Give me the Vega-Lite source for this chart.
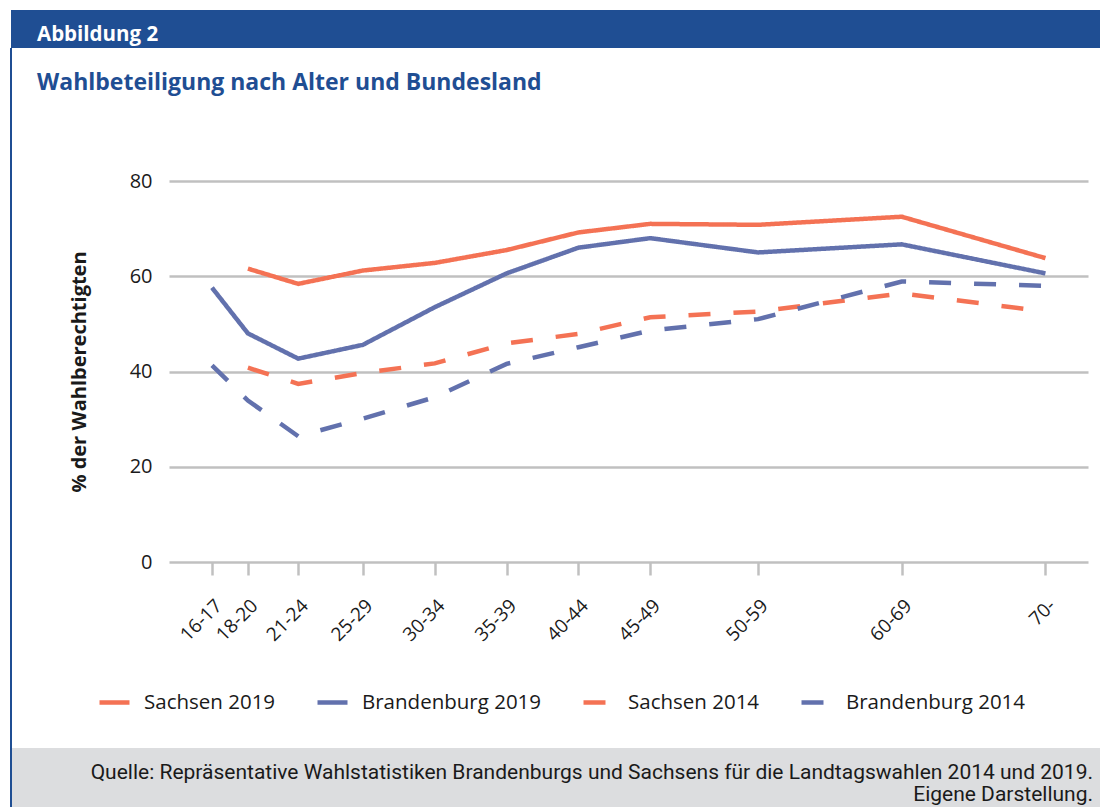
{
  "$schema": "https://vega.github.io/schema/vega-lite/v6.json",
  "padding": {"left": 10, "top": 10, "right": 0, "bottom": 0},
  "background": "white",
  "spacing": 0,
  "bounds": "flush",
  "config": {
    "view": {"stroke": null},
    "font": "Open Sans",
    "concat": {"spacing": 0}
  },
  "datasets": {
    "wahl": [
      {"Reihe": "Sachsen 2019", "Alter": "18-20", "Mitte": 19, "Wert": 61.6},
      {"Reihe": "Sachsen 2019", "Alter": "21-24", "Mitte": 22.5, "Wert": 58.4},
      {"Reihe": "Sachsen 2019", "Alter": "25-29", "Mitte": 27, "Wert": 61.2},
      {"Reihe": "Sachsen 2019", "Alter": "30-34", "Mitte": 32, "Wert": 62.8},
      {"Reihe": "Sachsen 2019", "Alter": "35-39", "Mitte": 37, "Wert": 65.5},
      {"Reihe": "Sachsen 2019", "Alter": "40-44", "Mitte": 42, "Wert": 69.2},
      {"Reihe": "Sachsen 2019", "Alter": "45-49", "Mitte": 47, "Wert": 71.0},
      {"Reihe": "Sachsen 2019", "Alter": "50-59", "Mitte": 54.5, "Wert": 70.8},
      {"Reihe": "Sachsen 2019", "Alter": "60-69", "Mitte": 64.5, "Wert": 72.5},
      {"Reihe": "Sachsen 2019", "Alter": "70-", "Mitte": 74.5, "Wert": 63.8},
      {"Reihe": "Brandenburg 2019", "Alter": "16-17", "Mitte": 16.5, "Wert": 57.6},
      {"Reihe": "Brandenburg 2019", "Alter": "18-20", "Mitte": 19, "Wert": 48.0},
      {"Reihe": "Brandenburg 2019", "Alter": "21-24", "Mitte": 22.5, "Wert": 42.7},
      {"Reihe": "Brandenburg 2019", "Alter": "25-29", "Mitte": 27, "Wert": 45.6},
      {"Reihe": "Brandenburg 2019", "Alter": "30-34", "Mitte": 32, "Wert": 53.5},
      {"Reihe": "Brandenburg 2019", "Alter": "35-39", "Mitte": 37, "Wert": 60.6},
      {"Reihe": "Brandenburg 2019", "Alter": "40-44", "Mitte": 42, "Wert": 66.0},
      {"Reihe": "Brandenburg 2019", "Alter": "45-49", "Mitte": 47, "Wert": 68.0},
      {"Reihe": "Brandenburg 2019", "Alter": "50-59", "Mitte": 54.5, "Wert": 65.0},
      {"Reihe": "Brandenburg 2019", "Alter": "60-69", "Mitte": 64.5, "Wert": 66.7},
      {"Reihe": "Brandenburg 2019", "Alter": "70-", "Mitte": 74.5, "Wert": 60.6},
      {"Reihe": "Sachsen 2014", "Alter": "18-20", "Mitte": 19, "Wert": 40.8},
      {"Reihe": "Sachsen 2014", "Alter": "21-24", "Mitte": 22.5, "Wert": 37.4},
      {"Reihe": "Sachsen 2014", "Alter": "25-29", "Mitte": 27, "Wert": 39.7},
      {"Reihe": "Sachsen 2014", "Alter": "30-34", "Mitte": 32, "Wert": 41.7},
      {"Reihe": "Sachsen 2014", "Alter": "35-39", "Mitte": 37, "Wert": 45.9},
      {"Reihe": "Sachsen 2014", "Alter": "40-44", "Mitte": 42, "Wert": 47.9},
      {"Reihe": "Sachsen 2014", "Alter": "45-49", "Mitte": 47, "Wert": 51.4},
      {"Reihe": "Sachsen 2014", "Alter": "50-59", "Mitte": 54.5, "Wert": 52.6},
      {"Reihe": "Sachsen 2014", "Alter": "60-69", "Mitte": 64.5, "Wert": 56.4},
      {"Reihe": "Sachsen 2014", "Alter": "70-", "Mitte": 74.5, "Wert": 52.6},
      {"Reihe": "Brandenburg 2014", "Alter": "16-17", "Mitte": 16.5, "Wert": 41.3},
      {"Reihe": "Brandenburg 2014", "Alter": "18-20", "Mitte": 19, "Wert": 33.9},
      {"Reihe": "Brandenburg 2014", "Alter": "21-24", "Mitte": 22.5, "Wert": 26.4},
      {"Reihe": "Brandenburg 2014", "Alter": "25-29", "Mitte": 27, "Wert": 30.1},
      {"Reihe": "Brandenburg 2014", "Alter": "30-34", "Mitte": 32, "Wert": 34.6},
      {"Reihe": "Brandenburg 2014", "Alter": "35-39", "Mitte": 37, "Wert": 41.6},
      {"Reihe": "Brandenburg 2014", "Alter": "40-44", "Mitte": 42, "Wert": 45.1},
      {"Reihe": "Brandenburg 2014", "Alter": "45-49", "Mitte": 47, "Wert": 48.6},
      {"Reihe": "Brandenburg 2014", "Alter": "50-59", "Mitte": 54.5, "Wert": 51.0},
      {"Reihe": "Brandenburg 2014", "Alter": "60-69", "Mitte": 64.5, "Wert": 58.9},
      {"Reihe": "Brandenburg 2014", "Alter": "70-", "Mitte": 74.5, "Wert": 58.0}
    ]
  },
  "vconcat": [
    {
      "width": 1090,
      "height": 38,
      "view": {"fill": "#1f4e93", "stroke": null},
      "title": {
        "text": "Abbildung 2",
        "anchor": "start",
        "frame": "group",
        "dx": 26,
        "dy": 39,
        "font": "Open Sans",
        "fontSize": 20.5,
        "fontWeight": "bold",
        "color": "#ffffff"
      },
      "data": {"values": [{"Kopf": "Abbildung 2"}]},
      "mark": {"type": "rect", "opacity": 0},
      "encoding": {}
    },
    {
      "width": 1090,
      "height": 700,
      "view": {"stroke": "#1f4e93", "strokeWidth": 2, "strokeDash": [0, 2880, 700, 0]},
      "title": {
        "text": "Wahlbeteiligung nach Alter und Bundesland",
        "anchor": "start",
        "frame": "group",
        "dx": 26,
        "dy": 51,
        "font": "Open Sans",
        "fontSize": 23,
        "fontWeight": "bold",
        "color": "#1f4e93"
      },
      "data": {"name": "wahl"},
      "mark": {"type": "line", "strokeWidth": 4.5, "clip": false},
      "encoding": {
        "x": {
          "field": "Mitte",
          "type": "quantitative",
          "scale": {"domain": [13.508, 77.46], "range": [158, 1077], "nice": false, "zero": false},
          "axis": {
            "values": [16.5, 19, 22.5, 27, 32, 37, 42, 47, 54.5, 64.5, 74.5],
            "labelExpr": "{'16.5':'16-17','19':'18-20','22.5':'21-24','27':'25-29','32':'30-34','37':'35-39','42':'40-44','47':'45-49','54.5':'50-59','64.5':'60-69','74.5':'70-'}[datum.value + '']",
            "offset": -186,
            "domain": false,
            "grid": false,
            "ticks": true,
            "tickSize": 13,
            "tickColor": "#c0c0c0",
            "tickWidth": 2.5,
            "labelAngle": -45,
            "labelAlign": "right",
            "labelBaseline": "top",
            "labelPadding": 21,
            "labelFontSize": 19,
            "labelColor": "#1a1a1a",
            "labelOverlap": false,
            "labelFlush": false,
            "labelBound": false,
            "title": null
          }
        },
        "y": {
          "field": "Wert",
          "type": "quantitative",
          "scale": {"domain": [0, 80], "range": [514, 133], "nice": false},
          "axis": {
            "values": [0, 20, 40, 60, 80],
            "offset": -158,
            "domain": false,
            "ticks": false,
            "grid": true,
            "gridColor": "#c0c0c0",
            "gridWidth": 2.5,
            "labelPadding": 17,
            "labelFontSize": 20,
            "labelColor": "#1a1a1a",
            "title": "% der Wahlberechtigten",
            "titleFont": "Open Sans",
            "titleFontSize": 20,
            "titleFontWeight": "bold",
            "titleColor": "#1a1a1a",
            "titlePadding": 40
          }
        },
        "color": {
          "field": "Reihe",
          "type": "nominal",
          "scale": {
            "domain": ["Sachsen 2019", "Brandenburg 2019", "Sachsen 2014", "Brandenburg 2014"],
            "range": ["#f47254", "#6271ad", "#f47254", "#6271ad"]
          },
          "legend": {
            "orient": "none",
            "legendX": 86,
            "legendY": 675,
            "direction": "horizontal",
            "columns": 4,
            "title": null,
            "symbolType": "stroke",
            "symbolSize": 900,
            "symbolStrokeWidth": 4.5,
            "labelFontSize": 20.5,
            "labelColor": "#1a1a1a",
            "labelOffset": 12,
            "labelLimit": 400,
            "columnPadding": 32,
            "encode": {
              "symbols": {
                "update": {
                  "strokeDash": {"signal": "indexof(datum.value, '2014') >= 0 ? [10, 10] : [1, 0]"}
                }
              }
            }
          }
        },
        "strokeDash": {
          "field": "Reihe",
          "type": "nominal",
          "scale": {
            "domain": ["Sachsen 2019", "Brandenburg 2019", "Sachsen 2014", "Brandenburg 2014"],
            "range": [[1, 0], [1, 0], [22, 23], [22, 23]]
          },
          "legend": {
            "orient": "none",
            "legendX": 86,
            "legendY": 675,
            "direction": "horizontal",
            "columns": 4,
            "title": null,
            "symbolType": "stroke",
            "symbolSize": 900,
            "symbolStrokeWidth": 4.5,
            "labelFontSize": 20.5,
            "labelColor": "#1a1a1a",
            "labelOffset": 12,
            "labelLimit": 400,
            "columnPadding": 32,
            "encode": {
              "symbols": {
                "update": {
                  "strokeDash": {"signal": "indexof(datum.value, '2014') >= 0 ? [10, 10] : [1, 0]"}
                }
              }
            }
          }
        }
      }
    },
    {
      "width": 1090,
      "height": 59,
      "view": {"fill": "#dcdddf", "stroke": "#1f4e93", "strokeWidth": 2, "strokeDash": [0, 2239, 59, 0]},
      "title": {
        "text": ["Quelle: Repräsentative Wahlstatistiken Brandenburgs und Sachsens für die Landtagswahlen 2014 und 2019.", "Eigene Darstellung."],
        "anchor": "end",
        "align": "right",
        "frame": "group",
        "dx": -8,
        "dy": 61,
        "font": "Roboto",
        "fontSize": 21,
        "fontWeight": "normal",
        "lineHeight": 22,
        "color": "#1a1a1a"
      },
      "data": {"values": [{"Quelle": "Repräsentative Wahlstatistiken"}]},
      "mark": {"type": "rect", "opacity": 0},
      "encoding": {}
    }
  ]
}
